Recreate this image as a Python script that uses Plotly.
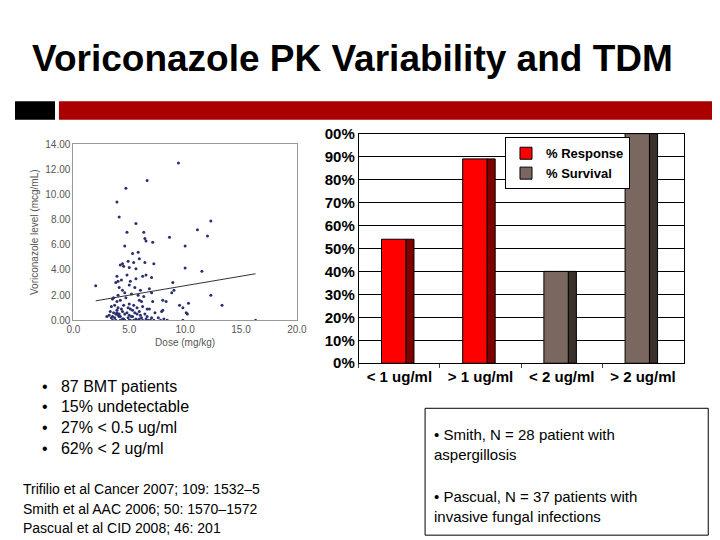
import plotly.graph_objects as go

# scatter: dose (mg/kg) vs voriconazole level (mcg/mL)
dose = [2.0, 3.9, 4.7, 6.6, 9.4, 4.1, 4.8, 4.6, 5.6, 6.3, 6.4, 6.5, 7.1, 8.6, 10.0, 11.1, 12.0, 12.3,
        4.4, 4.9, 5.3, 5.8, 5.9, 6.4, 7.2, 4.2, 4.5, 5.0, 5.4, 5.6, 10.0, 11.5, 3.9, 4.0, 4.3, 4.8,
        5.1, 5.6, 6.2, 6.5, 7.0, 3.8, 4.1, 4.4, 5.0, 5.5, 6.0, 6.8, 8.9, 9.0, 3.6, 4.0, 4.6, 5.2,
        5.8, 6.3, 7.0, 8.8, 12.3, 3.5, 3.9, 4.2, 4.7, 5.0, 5.4, 5.9, 6.1, 7.1, 8.0, 8.3, 3.4, 3.7,
        4.0, 4.3, 4.5, 4.9, 5.3, 5.7, 6.2, 6.6, 9.5, 10.3, 13.3, 3.3, 3.6, 3.9, 4.1, 4.4, 4.8, 5.1,
        5.5, 5.9, 6.4, 6.8, 8.0, 9.8, 10.1, 3.2, 3.5, 3.8, 4.0, 4.2, 4.6, 5.0, 5.3, 5.7, 6.0, 6.6,
        7.3, 7.9, 10.2, 3.0, 3.4, 3.7, 4.1, 4.5, 4.9, 5.2, 5.6, 6.1, 6.5, 7.0, 7.6, 8.1, 3.5, 3.8,
        4.2, 4.6, 5.0, 5.4, 5.8, 6.2, 6.7, 7.2, 7.8, 8.4, 9.8, 16.3, 3.9, 4.4, 5.1, 5.9, 6.9]
level = [2.75, 9.4, 10.5, 11.1, 12.5, 8.2, 7.0, 5.9, 7.7, 7.0, 6.5, 6.3, 6.2, 6.6, 5.9, 7.2, 6.7, 7.9,
         4.5, 4.7, 5.3, 5.4, 4.9, 4.6, 4.5, 4.4, 4.3, 4.2, 4.6, 4.1, 4.15, 3.9, 3.5, 3.1, 3.2, 3.6,
         3.1, 3.3, 3.5, 3.6, 3.4, 3.0, 2.6, 2.4, 2.8, 2.6, 2.4, 2.5, 3.0, 2.4, 1.8, 2.0, 2.2, 2.1,
         2.0, 1.9, 2.2, 2.2, 2.0, 1.7, 1.5, 1.6, 1.8, 1.3, 1.2, 1.6, 1.5, 1.5, 1.6, 1.5, 1.1, 1.2,
         1.0, 0.9, 1.2, 1.0, 0.8, 1.0, 1.1, 0.9, 1.2, 1.35, 1.2, 0.7, 0.6, 0.8, 0.5, 0.7, 0.6, 0.9,
         0.6, 0.7, 0.5, 0.9, 0.8, 1.0, 0.6, 0.4, 0.3, 0.5, 0.4, 0.3, 0.5, 0.4, 0.3, 0.5, 0.4, 0.3,
         0.6, 0.7, 0.5, 0.3, 0.2, 0.2, 0.3, 0.1, 0.2, 0.3, 0.1, 0.2, 0.1, 0.2, 0.2, 0.1, 0.0, 0.0,
         0.0, 0.0, 0.0, 0.0, 0.0, 0.0, 0.0, 0.0, 0.0, 0.0, 0.0, 0.0, 0.6, 0.1, 0.0, 0.1, 0.0]
trend_x = [2.0, 16.3]
trend_y = [1.55, 3.7]

# bar chart
categories = ["< 1 ug/ml", "> 1 ug/ml", "< 2 ug/ml", "> 2 ug/ml"]
response = [54, 89, None, None]
survival = [None, None, 40, 100]
y_ticks = list(range(0, 101, 10))
y_ticktext = ["0%"] + [f"{v}%" for v in y_ticks[1:-1]] + ["00%"]

fig = go.Figure()
fig.add_trace(go.Scatter(x=dose, y=level, mode="markers", showlegend=False,
                         marker=dict(size=3, color="#2a2f6e"), xaxis="x", yaxis="y"))
fig.add_trace(go.Scatter(x=trend_x, y=trend_y, mode="lines", showlegend=False,
                         line=dict(color="#333", width=1), xaxis="x", yaxis="y"))

# 3D-ish bars: darker side face drawn behind the front face
for vals, front, side, name in [(response, "#ff0000", "#800000", "% Response"),
                                (survival, "#7a6860", "#3a302c", "% Survival")]:
    fig.add_trace(go.Bar(x=categories, y=vals, width=0.1, offset=0.08, marker=dict(
        color=side, line=dict(color="black", width=1)), showlegend=False,
        xaxis="x2", yaxis="y2"))
    fig.add_trace(go.Bar(x=categories, y=vals, width=0.3, offset=-0.22, name=name, marker=dict(
        color=front, line=dict(color="black", width=1)), xaxis="x2", yaxis="y2"))

fig.update_layout(
    width=720, height=540, margin=dict(l=0, r=0, t=0, b=0),
    paper_bgcolor="white", plot_bgcolor="white", barmode="overlay",
    font=dict(family="Liberation Sans, Arial", color="black"),
    xaxis=dict(domain=[0.083, 0.401], range=[0, 20], dtick=5, tickformat=".1f",
               showgrid=False, zeroline=False, showline=True, linecolor="#999", mirror=True,
               tickfont=dict(size=10, color="#555"),
               title=dict(text="Dose (mg/kg)", font=dict(size=10, color="#555"), standoff=4)),
    yaxis=dict(domain=[0.42, 0.757], range=[0, 14], dtick=2, tickformat=".2f",
               showgrid=False, zeroline=False, showline=True, linecolor="#999", mirror=True,
               tickfont=dict(size=10, color="#555"),
               title=dict(text="Voriconazole level (mcg/mL)", font=dict(size=10, color="#555"),
                          standoff=4)),
    xaxis2=dict(domain=[0.489, 0.951], anchor="y2", showline=True, linecolor="black", mirror=True,
                tickfont=dict(size=15, weight="bold"), ticks="outside", tickson="boundaries",
                ticklen=4),
    yaxis2=dict(domain=[0.338, 0.777], range=[0, 100], tickvals=y_ticks, ticktext=y_ticktext,
                showgrid=True, gridcolor="black", gridwidth=1, showline=True, linecolor="black",
                mirror=True, tickfont=dict(size=15, weight="bold"), anchor="x2", ticklen=0),
    legend=dict(x=0.697, y=0.77, xanchor="left", yanchor="top", bgcolor="white",
                bordercolor="black", borderwidth=1, tracegroupgap=0, itemwidth=30,
                font=dict(size=13, family="Liberation Sans", weight="bold")),
)

fig.add_shape(type="rect", xref="paper", yref="paper", x0=0, x1=41 / 720,
              y0=1 - 106 / 540, y1=1 - 87 / 540, fillcolor="black", line_width=0)
fig.add_shape(type="rect", xref="paper", yref="paper", x0=45 / 720, x1=1,
              y0=1 - 106 / 540, y1=1 - 87 / 540, fillcolor="#aa0000", line_width=0)
fig.add_shape(type="rect", xref="paper", yref="paper", x0=420 / 720, x1=710 / 720,
              y0=1 - 535 / 540, y1=1 - 404 / 540, line=dict(color="black", width=1))

fig.add_annotation(text="Voriconazole PK Variability and TDM", xref="paper", yref="paper",
                   x=15 / 720, y=1 - 43 / 540, xanchor="left", yanchor="middle",
                   showarrow=False, font=dict(size=37, weight="bold"))
bullets = ["87 BMT patients", "15% undetectable", "27% < 0.5 ug/ml", "62% < 2 ug/ml"]
for i, b in enumerate(bullets):
    fig.add_annotation(text="•   " + b, xref="paper", yref="paper", x=26 / 720,
                       y=1 - (381 + i * 21.5) / 540, xanchor="left", yanchor="middle",
                       showarrow=False, font=dict(size=16))
refs = ["Trifilio et al Cancer 2007; 109: 1532–5", "Smith et al AAC 2006; 50: 1570–1572",
        "Pascual et al CID 2008; 46: 201"]
for i, r in enumerate(refs):
    fig.add_annotation(text=r, xref="paper", yref="paper", x=6 / 720,
                       y=1 - (487 + i * 20.5) / 540, xanchor="left", yanchor="middle",
                       showarrow=False, font=dict(size=14))
fig.add_annotation(text="• Smith, N = 28 patient with<br>aspergillosis", xref="paper",
                   yref="paper", x=427 / 720, y=1 - 441 / 540, xanchor="left",
                   yanchor="middle", align="left", showarrow=False, font=dict(size=15))
fig.add_annotation(text="• Pascual, N = 37 patients with<br>invasive fungal infections",
                   xref="paper", yref="paper", x=427 / 720, y=1 - 505 / 540, xanchor="left",
                   yanchor="middle", align="left", showarrow=False, font=dict(size=15))

fig.write_html("out.html")
